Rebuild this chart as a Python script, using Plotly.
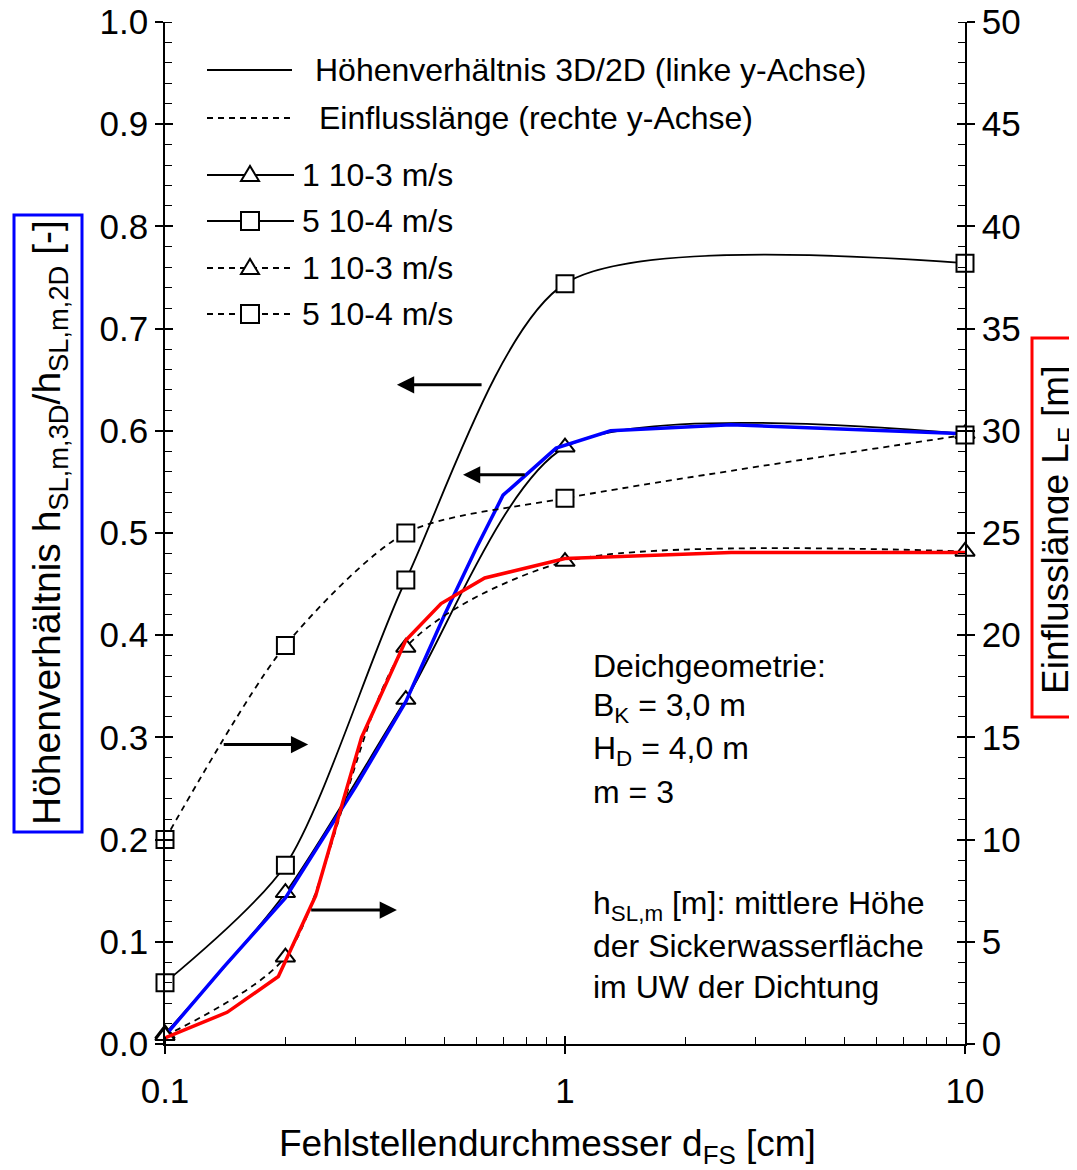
import math
import plotly.graph_objects as go

# ---------------- data ----------------
d_fs = [0.1, 0.2, 0.4, 1, 10]                       # Fehlstellendurchmesser [cm]
h_ratio_k1e3 = [0.010, 0.148, 0.337, 0.584, 0.597]   # Höhenverhältnis, k = 1e-3 m/s
h_ratio_k5e4 = [0.060, 0.175, 0.454, 0.744, 0.764]   # Höhenverhältnis, k = 5e-4 m/s
lf_k1e3 = [0.4, 4.25, 19.4, 23.6, 24.1]              # Einflusslänge [m], k = 1e-3 m/s
lf_k5e4 = [10.0, 19.5, 25.0, 26.7, 29.8]             # Einflusslänge [m], k = 5e-4 m/s

# coloured highlight polylines drawn over the curves
blue_x = [0.1, 0.14, 0.2, 0.3, 0.4, 0.5, 0.6, 0.7, 0.95, 1.3, 2.6, 10]
blue_y = [0.008, 0.075, 0.143, 0.252, 0.335, 0.42, 0.485, 0.537, 0.583, 0.600, 0.606, 0.597]
red_x = [0.1, 0.143, 0.192, 0.238, 0.31, 0.4, 0.49, 0.63, 1.0, 2.6, 10]
red_lf = [0.3, 1.55, 3.3, 7.25, 15.0, 19.75, 21.55, 22.8, 23.75, 24.05, 24.05]

legend_labels = ["Höhenverhältnis 3D/2D (linke y-Achse)",
                 "Einflusslänge (rechte y-Achse)",
                 "1 10-3 m/s", "5 10-4 m/s", "1 10-3 m/s", "5 10-4 m/s"]

# arrows: (x_tail, x_head, y on left axis)
arrows = [(0.624, 0.38, 0.645), (0.80, 0.556, 0.557),
          (0.139, 0.228, 0.293), (0.23, 0.38, 0.131)]

info_lines = ["Deichgeometrie:", "B<sub>K</sub> = 3,0 m", "H<sub>D</sub> = 4,0 m", "m = 3"]
note_lines = ["h<sub>SL,m</sub> [m]: mittlere Höhe", "der Sickerwasserfläche",
              "im UW der Dichtung"]

x_title = "Fehlstellendurchmesser d<sub>FS</sub> [cm]"
y_title = "Höhenverhältnis h<sub>SL,m,3D</sub>/h<sub>SL,m,2D</sub> [-]"
y2_title = "Einflusslänge L<sub>F</sub> [m]"

# ---------------- layout constants ----------------
OFF = 8                     # page offset of the plot div (body margin)
PW, PH = 1077, 1170         # page size
W, H = PW - OFF, PH - OFF   # figure size
PL, PT, PR, PB = 165, 22, 965, 1044   # plot area in page pixels
L, T = PL - OFF, PT - OFF
R = W - (PR - OFF)
B = H - (PB - OFF)
FONT = "Liberation Sans, Arial, sans-serif"
FS_TICK = 35
FS_TXT = 32
FS_TITLE = 37
DASH = "6px,5px"


def pxx(x):
    return (x - PL) / (PR - PL)


def pxy(y):
    return (PB - y) / (PB - PT)


fig = go.Figure()

mk_tri = dict(symbol="triangle-up", size=17, color="white", line=dict(color="black", width=2))
mk_sq = dict(symbol="square", size=17, color="white", line=dict(color="black", width=2))
ln_solid = dict(color="black", width=1.8, shape="spline", smoothing=0.75)
ln_dash = dict(color="black", width=1.8, shape="spline", smoothing=0.75, dash=DASH)

fig.add_trace(go.Scatter(x=d_fs, y=h_ratio_k1e3, mode="lines+markers", line=ln_solid,
                         marker=mk_tri, cliponaxis=False, showlegend=False))
fig.add_trace(go.Scatter(x=d_fs, y=h_ratio_k5e4, mode="lines+markers", line=ln_solid,
                         marker=mk_sq, cliponaxis=False, showlegend=False))
fig.add_trace(go.Scatter(x=d_fs, y=lf_k1e3, mode="lines+markers", line=ln_dash, yaxis="y2",
                         marker=mk_tri, cliponaxis=False, showlegend=False))
fig.add_trace(go.Scatter(x=d_fs, y=lf_k5e4, mode="lines+markers", line=ln_dash, yaxis="y2",
                         marker=mk_sq, cliponaxis=False, showlegend=False))
fig.add_trace(go.Scatter(x=blue_x, y=blue_y, mode="lines",
                         line=dict(color="#0000ff", width=3.5), showlegend=False))
fig.add_trace(go.Scatter(x=red_x, y=red_lf, mode="lines", yaxis="y2",
                         line=dict(color="#ff0000", width=3.5), showlegend=False))
# dummy traces for the inner half of the major ticks
fig.add_trace(go.Scatter(x=[None], y=[None], xaxis="x2", yaxis="y3", showlegend=False,
                         hoverinfo="skip"))
fig.add_trace(go.Scatter(x=[None], y=[None], yaxis="y4", showlegend=False, hoverinfo="skip"))

axis_common = dict(showgrid=False, zeroline=False, showline=True, linecolor="black",
                   linewidth=1.5, tickcolor="black", tickwidth=1.5,
                   ticklabeloverflow="allow",
                   tickfont=dict(family=FONT, size=FS_TICK, color="black"))

fig.update_layout(
    width=W, height=H, margin=dict(l=L, r=R, t=T, b=B, autoexpand=False),
    paper_bgcolor="white", plot_bgcolor="white",
    font=dict(family=FONT, size=FS_TXT, color="black"),
    xaxis=dict(type="log", range=[-1, 1], dtick=1, ticks="outside", ticklen=8,
               ticklabelstandoff=7,
               minor=dict(ticks="inside", ticklen=7, dtick="D1", tickcolor="black",
                          tickwidth=1.2, showgrid=False),
               **axis_common),
    xaxis2=dict(type="log", range=[-1, 1], dtick=1, overlaying="x", anchor="y3", side="bottom",
                ticks="inside", ticklen=8, tickwidth=1.5, tickcolor="black",
                showticklabels=False, showgrid=False, zeroline=False, showline=False),
    yaxis=dict(range=[0, 1], dtick=0.1, tickformat=".1f", ticks="outside", ticklen=8,
               minor=dict(ticks="inside", ticklen=7, dtick=0.02, tickcolor="black",
                          tickwidth=1.2, showgrid=False),
               **axis_common),
    yaxis2=dict(range=[0, 50], dtick=5, overlaying="y", side="right", anchor="x",
                ticks="outside", ticklen=8,
                minor=dict(ticks="inside", ticklen=7, dtick=1, tickcolor="black",
                           tickwidth=1.2, showgrid=False),
                **axis_common),
    yaxis3=dict(range=[0, 1], dtick=0.1, overlaying="y", side="left", anchor="x2",
                ticks="inside", ticklen=8, tickwidth=1.5, tickcolor="black",
                showticklabels=False, showgrid=False, zeroline=False, showline=False),
    yaxis4=dict(range=[0, 50], dtick=5, overlaying="y", side="right", anchor="x",
                ticks="inside", ticklen=8, tickwidth=1.5, tickcolor="black",
                showticklabels=False, showgrid=False, zeroline=False, showline=False),
)

shapes = []
annotations = []

# axis titles (with their coloured boxes)
shapes.append(dict(type="rect", xref="paper", yref="paper", x0=pxx(14), x1=pxx(82),
                   y0=pxy(832), y1=pxy(215), line=dict(color="#0000ff", width=3),
                   fillcolor="white", layer="below"))
shapes.append(dict(type="rect", xref="paper", yref="paper", x0=pxx(1032), x1=pxx(1095),
                   y0=pxy(717), y1=pxy(338), line=dict(color="#ff0000", width=3),
                   fillcolor="white", layer="below"))
annotations.append(dict(xref="paper", yref="paper", x=pxx(49), y=pxy(523), showarrow=False,
                        textangle=-90, xanchor="center", yanchor="middle", text=y_title,
                        font=dict(family=FONT, size=39)))
annotations.append(dict(xref="paper", yref="paper", x=pxx(1058), y=pxy(530), showarrow=False,
                        textangle=-90, xanchor="center", yanchor="middle", text=y2_title,
                        font=dict(family=FONT, size=FS_TITLE)))
annotations.append(dict(xref="paper", yref="paper", x=pxx(547), y=pxy(1146), showarrow=False,
                        xanchor="center", yanchor="middle", text=x_title,
                        font=dict(family=FONT, size=FS_TITLE)))

# manual legend
leg_rows = [70, 118, 175, 221, 268, 314]
leg_text_x = [313, 317, 300, 300, 300, 300]
leg_dash = [None, DASH, None, None, DASH, DASH]
leg_mark = [None, None, "tri", "sq", "tri", "sq"]
for i, lab in enumerate(legend_labels):
    yy = leg_rows[i]
    x0, x1 = (207, 292) if i < 2 else (207, 294)
    ln = dict(color="black", width=1.8)
    if leg_dash[i]:
        ln["dash"] = leg_dash[i]
    shapes.append(dict(type="line", xref="paper", yref="paper", x0=pxx(x0), x1=pxx(x1),
                       y0=pxy(yy), y1=pxy(yy), line=ln))
    cx = 250
    if leg_mark[i] == "tri":
        pts = [(cx - 9, yy + 6), (cx + 9, yy + 6), (cx, yy - 9)]
        path = "M " + " L ".join(f"{pxx(a):.5f},{pxy(b):.5f}" for a, b in pts) + " Z"
        shapes.append(dict(type="path", xref="paper", yref="paper", path=path,
                           fillcolor="white", line=dict(color="black", width=2)))
    elif leg_mark[i] == "sq":
        shapes.append(dict(type="rect", xref="paper", yref="paper", x0=pxx(cx - 9),
                           x1=pxx(cx + 9), y0=pxy(yy + 9), y1=pxy(yy - 9),
                           fillcolor="white", line=dict(color="black", width=2)))
    annotations.append(dict(xref="paper", yref="paper", x=pxx(leg_text_x[i]), y=pxy(yy),
                            xanchor="left", yanchor="middle", showarrow=False, text=lab,
                            font=dict(family=FONT, size=FS_TXT)))

# info text blocks
for txt, yy in zip(info_lines, [666, 707, 751, 792]):
    annotations.append(dict(xref="paper", yref="paper", x=pxx(591), y=pxy(yy),
                            xanchor="left", yanchor="middle", showarrow=False, text=txt,
                            font=dict(family=FONT, size=FS_TXT)))
for txt, yy in zip(note_lines, [905, 946, 987]):
    annotations.append(dict(xref="paper", yref="paper", x=pxx(591), y=pxy(yy),
                            xanchor="left", yanchor="middle", showarrow=False, text=txt,
                            font=dict(family=FONT, size=FS_TXT)))

# arrows
for xt, xh, ya in arrows:
    annotations.append(dict(xref="x", yref="y", axref="x", ayref="y",
                            x=math.log10(xh), y=ya, ax=math.log10(xt), ay=ya, text="",
                            showarrow=True, arrowhead=2, arrowsize=1.15, arrowwidth=3,
                            arrowcolor="black"))

fig.update_layout(shapes=shapes, annotations=annotations)
fig.write_html("out.html")
